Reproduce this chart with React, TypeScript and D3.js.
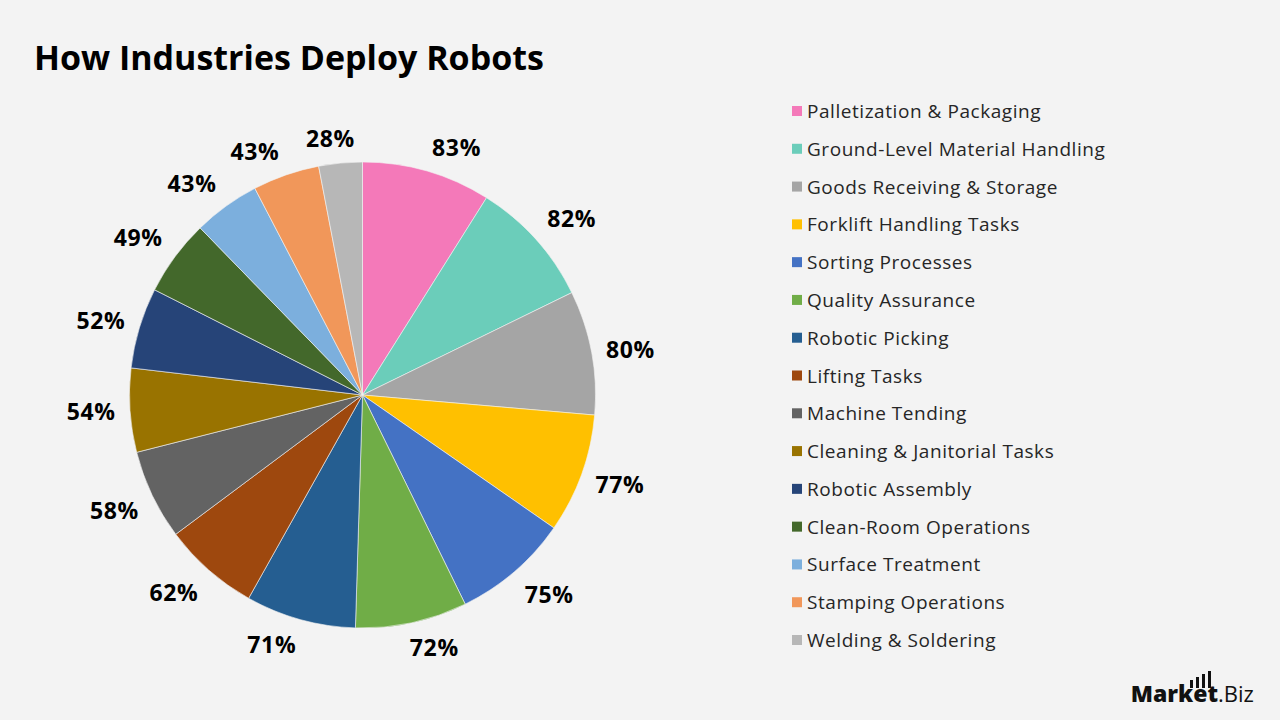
import { useMemo } from "react"
import * as d3 from "d3";

const categories = [
  "Palletization & Packaging", "Ground-Level Material Handling", "Goods Receiving & Storage",
  "Forklift Handling Tasks", "Sorting Processes", "Quality Assurance", "Robotic Picking",
  "Lifting Tasks", "Machine Tending", "Cleaning & Janitorial Tasks", "Robotic Assembly",
  "Clean-Room Operations", "Surface Treatment", "Stamping Operations", "Welding & Soldering",
];
const values = [83, 82, 80, 77, 75, 72, 71, 62, 58, 54, 52, 49, 43, 43, 28];
const colors = [
  "#F479B9", "#6BCDBA", "#A5A5A5", "#FFC000", "#4472C4", "#70AD47", "#255E91",
  "#9E480E", "#636363", "#997300", "#264478", "#43682B", "#7CAFDD", "#F1975A", "#B7B7B7",
];

const FONT = "'Open Sans', 'DejaVu Sans', sans-serif";

export default function App() {
  const width = 1280;
  const height = 720;
  const cx = 362.5;
  const cy = 395;
  const radius = 233;

  const arcs = useMemo(() => d3.pie<number>().sort(null).value(d => d)(values), []);
  const arcGen = d3.arc<d3.PieArcDatum<number>>().innerRadius(0).outerRadius(radius);

  const legendY = d3.scalePoint<string>()
    .domain(categories)
    .range([111, 640]);

  // outside-end label: anchor just outside the rim, box pushed away from the pie
  const labelPos = (mid: number) => {
    const s = Math.sin(mid), c = -Math.cos(mid);
    const g = radius + 12;
    const fx = Math.min(1, Math.abs(s) * 3.5);
    const fy = Math.max(0, Math.min(1, (Math.abs(c) - 0.15) * 2.5));
    return [s * g + Math.sign(s) * 27 * fx, c * g + Math.sign(c) * 13 * fy];
  };

  return (
    <svg width={width} height={height} style={{ position: "absolute", left: 0, top: 0 }}>
      <rect width={width} height={height} fill="#F3F3F3" />
      <text x={34} y={70} fontFamily={FONT} fontWeight={700} fontSize={34} fill="#000">How Industries Deploy Robots</text>

      <g transform={`translate(${cx}, ${cy})`}>
        {arcs.map((a, i) => (
          <path key={i} d={arcGen(a) || ""} fill={colors[i]} stroke="#F3F3F3" strokeWidth={0.6} />
        ))}
        {arcs.map((a, i) => {
          const [x, y] = labelPos((a.startAngle + a.endAngle) / 2);
          return (
            <text key={i} x={x} y={y} textAnchor="middle" dominantBaseline="central"
              fontFamily={FONT} fontWeight={700} fontSize={23} letterSpacing={0.6} fill="#000">
              {values[i]}%
            </text>
          );
        })}
      </g>

      <g>
        {categories.map((cat, i) => (
          <g key={cat} transform={`translate(792, ${legendY(cat)})`}>
            <rect x={0} y={-5} width={10} height={10} fill={colors[i]} />
            <text x={15} y={0} dominantBaseline="central" fontFamily={FONT} fontSize={19}
              letterSpacing={0.55} fill="#262626">{cat}</text>
          </g>
        ))}
      </g>

      <g transform="translate(0, 702)">
        <text x={1218} y={0} textAnchor="end" fontFamily={FONT} fontWeight={800} fontSize={23} fill="#111">Market</text>
        <text x={1218} y={0} fontFamily={FONT} fontWeight={500} fontSize={22} fill="#111">.Biz</text>
        {[0, 1, 2, 3].map(i => (
          <rect key={i} x={1190 + i * 6} y={-22 - i * 3} width={3} height={8 + i * 3} fill="#111" />
        ))}
      </g>
    </svg>
  );
}
